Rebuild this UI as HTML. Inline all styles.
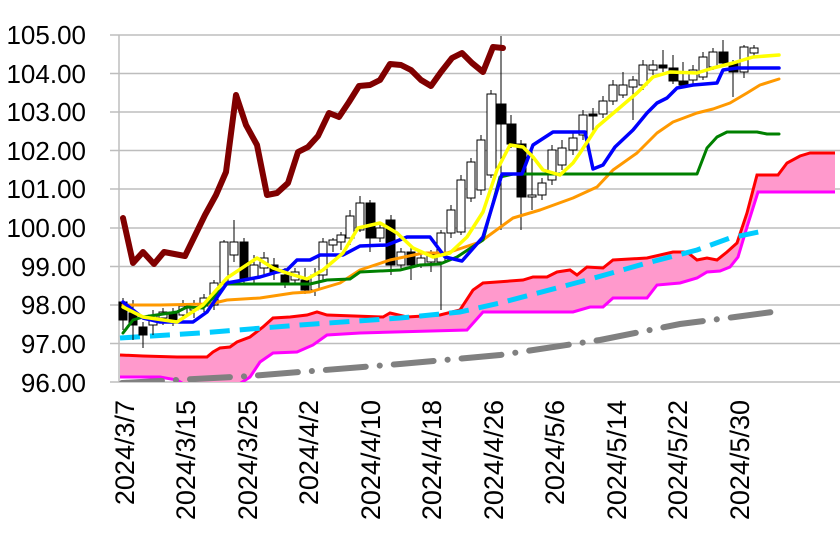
<!DOCTYPE html>
<html><head><meta charset="utf-8"><style>
html,body{margin:0;padding:0;background:#fff;}
svg{display:block;}
text{font-family:"Liberation Sans",sans-serif;fill:#000;}
</style></head><body>
<svg width="840" height="551" viewBox="0 0 840 551" xmlns="http://www.w3.org/2000/svg">
<defs><clipPath id="pc"><rect x="119" y="0" width="721" height="382"/></clipPath></defs>
<g stroke="#bdbdbd" stroke-width="1.5">
<line x1="110" y1="35" x2="840" y2="35"/>
<line x1="110" y1="73.5" x2="840" y2="73.5"/>
<line x1="110" y1="112" x2="840" y2="112"/>
<line x1="110" y1="150.5" x2="840" y2="150.5"/>
<line x1="110" y1="189" x2="840" y2="189"/>
<line x1="110" y1="228" x2="840" y2="228"/>
<line x1="110" y1="266.5" x2="840" y2="266.5"/>
<line x1="110" y1="305" x2="840" y2="305"/>
<line x1="110" y1="343.5" x2="840" y2="343.5"/>
<line x1="110" y1="382" x2="840" y2="382"/>
<line x1="119" y1="35" x2="119" y2="382"/>
</g>
<g font-size="26" text-anchor="end">
<text x="86" y="44">105.00</text>
<text x="86" y="83">104.00</text>
<text x="86" y="121">103.00</text>
<text x="86" y="160">102.00</text>
<text x="86" y="198">101.00</text>
<text x="86" y="237">100.00</text>
<text x="86" y="276">99.00</text>
<text x="86" y="314">98.00</text>
<text x="86" y="353">97.00</text>
<text x="86" y="392">96.00</text>
</g>
<g font-size="27" text-anchor="end">
<text transform="translate(134,400) rotate(-90)">2024/3/7</text>
<text transform="translate(195,400) rotate(-90)">2024/3/15</text>
<text transform="translate(257,400) rotate(-90)">2024/3/25</text>
<text transform="translate(318,400) rotate(-90)">2024/4/2</text>
<text transform="translate(380,400) rotate(-90)">2024/4/10</text>
<text transform="translate(441,400) rotate(-90)">2024/4/18</text>
<text transform="translate(503,400) rotate(-90)">2024/4/26</text>
<text transform="translate(564,400) rotate(-90)">2024/5/6</text>
<text transform="translate(626,400) rotate(-90)">2024/5/14</text>
<text transform="translate(687,400) rotate(-90)">2024/5/22</text>
<text transform="translate(749,400) rotate(-90)">2024/5/30</text>
</g>
<g clip-path="url(#pc)">
<polygon fill="#ff99cc" points="120,355 143,356 177,357 207,357 213,352 220,348 230,347 237,342 250,337 263,327 273,318 290,317 307,315 317,312 327,315 383,317 390,313 407,317 440,315 460,310 473,290 483,283 497,282 523,280 533,277 547,277 557,272 570,270 577,275 587,267 603,268 613,260 647,258 673,252 687,252 697,260 707,258 717,260 727,252 737,243 747,213 757,175 778,175 787,163 800,156 810,153 835,153 835,192 758,192 747,227 738,257 730,267 720,271 707,272 697,278 680,283 657,285 647,298 613,298 603,307 590,307 573,312 483,312 467,330 360,333 327,335 313,345 297,352 273,353 260,362 250,377 230,390 190,388 177,380 160,377 120,377"/>
<polyline fill="none" stroke="#ff00ff" stroke-width="3" points="120,377 160,377 177,380 190,388 230,390 250,377 260,362 273,353 297,352 313,345 327,335 360,333 467,330 483,312 573,312 590,307 603,307 613,298 647,298 657,285 680,283 697,278 707,272 720,271 730,267 738,257 747,227 758,192 835,192"/>
<polyline fill="none" stroke="#ff0000" stroke-width="3" points="120,355 143,356 177,357 207,357 213,352 220,348 230,347 237,342 250,337 263,327 273,318 290,317 307,315 317,312 327,315 383,317 390,313 407,317 440,315 460,310 473,290 483,283 497,282 523,280 533,277 547,277 557,272 570,270 577,275 587,267 603,268 613,260 647,258 673,252 687,252 697,260 707,258 717,260 727,252 737,243 747,213 757,175 778,175 787,163 800,156 810,153 835,153"/>
<polyline fill="none" stroke="#808080" stroke-width="6" stroke-linecap="round" stroke-dasharray="40,14,0.1,14" points="122,383 250,376 400,364 500,355 600,340 680,324 735,317 780,311"/>
</g>
<polyline fill="none" stroke="#00ccff" stroke-width="5" stroke-dasharray="20,10" points="120,338 200,333 300,325 400,318 460,312 500,303 587,280 647,263 697,250 730,238 768,230"/>
<g stroke="#000" stroke-width="1">
<!-- candles: wicks -->
<path d="M123,298V330M133,300V340M143,322V348M153,310V335M163,308V325M173,308V326M183,300V320M194,300V318M204,294V312M214,280V310M224,240V290M234,220V262M244,238V285M254,255V285M264,252V275M274,258V280M285,268V288M295,268V285M305,268V294M315,268V296M323,238V280M333,238V252M341,232V250M350,210V245M360,196V232M370,200V252M380,225V242M391,215V275M401,248V268M411,248V280M421,255V268M431,250V272M441,230V310M451,205V238M461,175V235M471,158V202M481,135V195M491,90V178M501,36V230M511,115V148M521,140V230M532,150V210M542,178V200M552,145V185M562,140V170M573,132V155M583,110V140M593,108V135M603,96V118M613,80V105M623,72V98M633,76V120M643,60V90M653,60V75M663,50V72M673,55V84M683,62V88M693,65V84M703,52V80M713,48V70M723,40V66M733,60V97M744,45V78M754,45V56"/>
</g>
<g stroke="#000" stroke-width="1">
<rect x="119" y="302" width="8" height="18" fill="#000"/>
<rect x="129" y="313" width="8" height="12" fill="#000"/>
<rect x="139" y="327" width="8" height="8" fill="#000"/>
<rect x="149" y="315" width="8" height="10" fill="#fff"/>
<rect x="159" y="312" width="8" height="6" fill="#fff"/>
<rect x="169" y="312" width="8" height="8" fill="#000"/>
<rect x="179" y="306" width="8" height="9" fill="#fff"/>
<rect x="190" y="305" width="8" height="5" fill="#fff"/>
<rect x="200" y="298" width="8" height="8" fill="#fff"/>
<rect x="210" y="283" width="8" height="22" fill="#fff"/>
<rect x="220" y="242" width="8" height="41" fill="#fff"/>
<rect x="230" y="242" width="8" height="13" fill="#fff"/>
<rect x="240" y="242" width="8" height="38" fill="#000"/>
<rect x="250" y="265" width="8" height="13" fill="#fff"/>
<rect x="260" y="258" width="8" height="10" fill="#fff"/>
<rect x="270" y="265" width="8" height="8" fill="#000"/>
<rect x="281" y="275" width="8" height="7" fill="#000"/>
<rect x="291" y="272" width="8" height="8" fill="#fff"/>
<rect x="301" y="280" width="8" height="10" fill="#000"/>
<rect x="311" y="275" width="8" height="15" fill="#fff"/>
<rect x="319" y="242" width="8" height="33" fill="#fff"/>
<rect x="329" y="240" width="8" height="5" fill="#fff"/>
<rect x="337" y="235" width="8" height="7" fill="#fff"/>
<rect x="346" y="216" width="8" height="22" fill="#fff"/>
<rect x="356" y="203" width="8" height="27" fill="#fff"/>
<rect x="366" y="203" width="9" height="35" fill="#000"/>
<rect x="376" y="228" width="8" height="10" fill="#fff"/>
<rect x="386" y="220" width="9" height="45" fill="#000"/>
<rect x="397" y="252" width="8" height="13" fill="#fff"/>
<rect x="407" y="252" width="8" height="13" fill="#000"/>
<rect x="417" y="258" width="8" height="7" fill="#fff"/>
<rect x="427" y="255" width="8" height="7" fill="#fff"/>
<rect x="437" y="233" width="8" height="29" fill="#fff"/>
<rect x="447" y="210" width="8" height="23" fill="#fff"/>
<rect x="457" y="180" width="8" height="52" fill="#fff"/>
<rect x="467" y="162" width="8" height="36" fill="#fff"/>
<rect x="477" y="140" width="8" height="50" fill="#fff"/>
<rect x="487" y="94" width="9" height="81" fill="#fff"/>
<rect x="497" y="104" width="9" height="20" fill="#000"/>
<rect x="507" y="124" width="9" height="20" fill="#000"/>
<rect x="517" y="144" width="9" height="53" fill="#000"/>
<rect x="528" y="195" width="8" height="2" fill="#fff"/>
<rect x="538" y="183" width="8" height="12" fill="#fff"/>
<rect x="548" y="150" width="8" height="30" fill="#fff"/>
<rect x="558" y="148" width="8" height="17" fill="#fff"/>
<rect x="569" y="138" width="8" height="12" fill="#fff"/>
<rect x="579" y="115" width="8" height="20" fill="#fff"/>
<rect x="589" y="114" width="8" height="2" fill="#000"/>
<rect x="599" y="101" width="8" height="13" fill="#fff"/>
<rect x="609" y="85" width="8" height="16" fill="#fff"/>
<rect x="619" y="85" width="8" height="10" fill="#fff"/>
<rect x="629" y="80" width="8" height="7" fill="#fff"/>
<rect x="639" y="65" width="8" height="20" fill="#fff"/>
<rect x="649" y="65" width="8" height="5" fill="#fff"/>
<rect x="659" y="65" width="8" height="3" fill="#000"/>
<rect x="669" y="68" width="9" height="13" fill="#000"/>
<rect x="679" y="81" width="9" height="4" fill="#000"/>
<rect x="689" y="70" width="8" height="10" fill="#fff"/>
<rect x="699" y="57" width="8" height="20" fill="#fff"/>
<rect x="709" y="52" width="8" height="15" fill="#fff"/>
<rect x="719" y="52" width="9" height="11" fill="#000"/>
<rect x="729" y="63" width="9" height="9" fill="#000"/>
<rect x="740" y="47" width="8" height="25" fill="#fff"/>
<rect x="750" y="48" width="8" height="5" fill="#fff"/>
</g>
<g fill="none" stroke-linejoin="round" stroke-linecap="round">
<polyline stroke="#ff9900" stroke-width="3" points="123,305 160,305 210,304 227,300 260,298 293,293 310,292 340,283 360,270 390,260 423,253 447,253 480,242 513,218 540,210 573,198 597,187 613,170 637,153 657,133 673,122 697,113 713,109 730,103 747,93 760,85 779,79"/>
<polyline stroke="#008000" stroke-width="3" points="123,333 133,320 143,317 177,312 187,307 203,308 227,284 310,284 327,280 350,279 360,272 400,270 420,265 440,264 457,257 483,240 500,177 513,174 697,174 707,148 717,137 727,132 757,132 767,134 779,134"/>
<polyline stroke="#0000ff" stroke-width="3.5" points="123,302 143,318 160,322 193,322 207,312 227,283 260,277 277,272 287,270 297,260 310,260 320,255 343,255 360,246 387,245 407,237 430,237 445,257 462,261 483,237 502,174 522,174 533,145 553,132 585,132 593,169 603,165 615,147 633,130 647,113 657,103 667,98 677,88 693,85 717,83 723,70 737,68 779,68"/>
<polyline stroke="#ffff00" stroke-width="3.5" points="123,307 143,317 177,322 203,305 227,278 257,258 273,268 287,273 307,279 323,270 343,253 358,228 380,223 397,233 413,248 433,257 450,253 467,237 483,212 497,170 510,145 523,147 533,157 543,170 560,175 573,163 580,153 597,127 617,110 637,93 653,77 670,72 697,73 713,68 733,63 753,57 779,55"/>
<polyline stroke="#800000" stroke-width="6" points="123,218 133,263 143,252 154,264 164,252 185,256 205,215 216,195 226,172 236,95 246,125 257,145 267,195 277,193 288,183 298,152 308,147 318,136 329,113 339,117 349,102 359,86 370,85 380,80 390,64 401,65 411,70 421,80 431,86 441,72 452,58 462,53 472,63 483,72 493,47 503,48"/>
</g>
</svg>
</body></html>
